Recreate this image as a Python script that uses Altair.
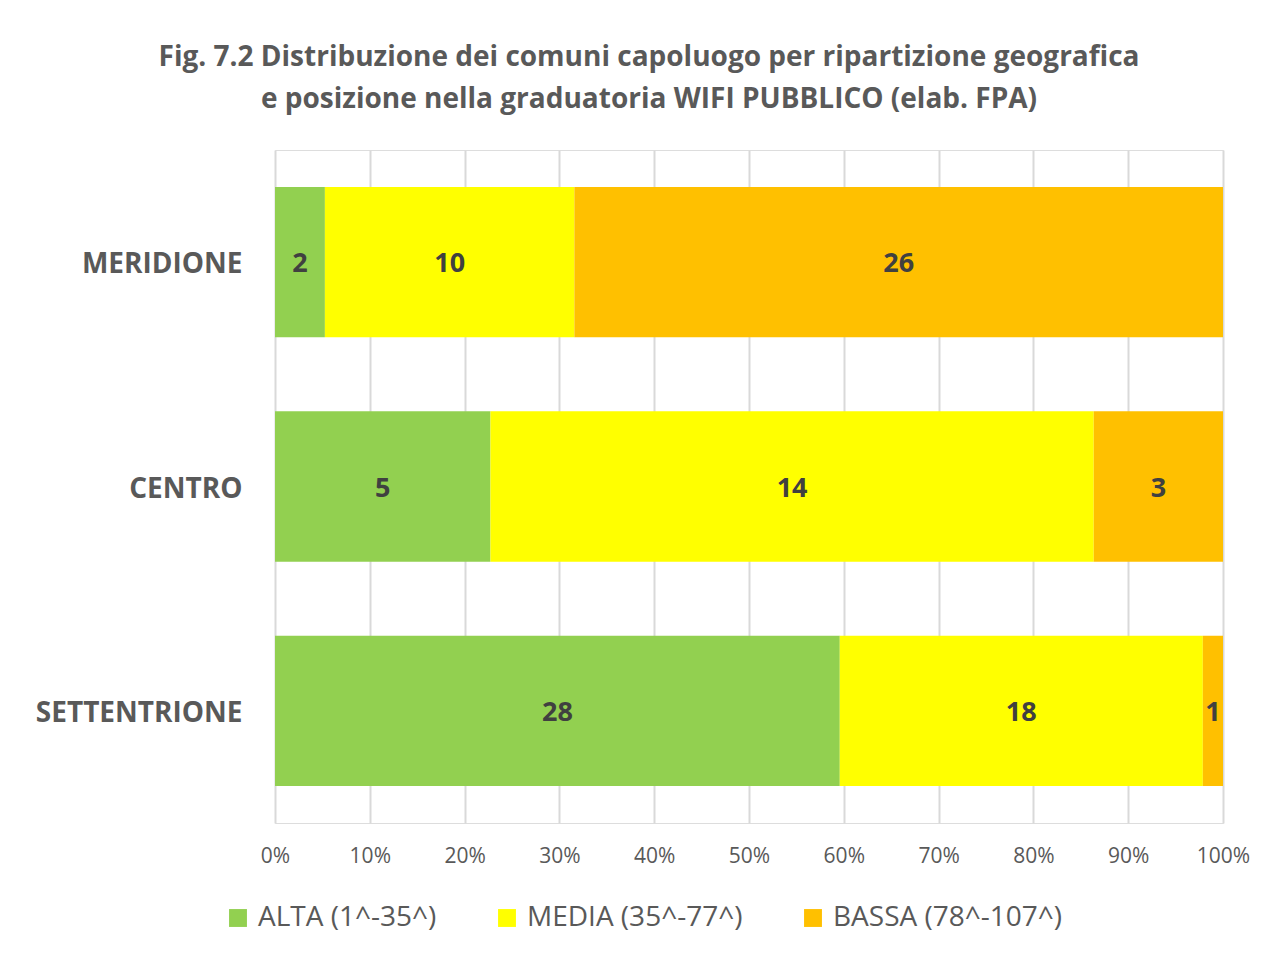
import altair as alt
import pandas as pd

regions = ["MERIDIONE", "CENTRO", "SETTENTRIONE"]
classes = ["ALTA (1^-35^)", "MEDIA (35^-77^)", "BASSA (78^-107^)"]
alta = [2, 5, 28]
media = [10, 14, 18]
bassa = [26, 3, 1]
colors = ["#92D050", "#FFFF00", "#FFC000"]
x_ticks = [0, 0.1, 0.2, 0.3, 0.4, 0.5, 0.6, 0.7, 0.8, 0.9, 1.0]

rows = []
for i, r in enumerate(regions):
    for j, (c, vals) in enumerate(zip(classes, [alta, media, bassa])):
        rows.append({"region": r, "classe": c, "ord": j, "n": vals[i]})
df = pd.DataFrame(rows)

FONT = "Open Sans"
GREY = "#595959"

base = alt.Chart(df)

bars = base.mark_bar().encode(
    y=alt.Y("region:N", sort=regions, title=None,
            scale=alt.Scale(paddingInner=0.33, paddingOuter=0.165),
            axis=alt.Axis(labelFont=FONT, labelFontSize=28, labelFontWeight="bold",
                          labelColor=GREY, labelPadding=33, ticks=False, domain=False,
                          labelLimit=400, labelOffset=3)),
    x=alt.X("sum(n):Q", stack="normalize", title=None,
            scale=alt.Scale(domain=[0, 1]),
            axis=alt.Axis(values=x_ticks, format=".0%", labelFont=FONT, labelFontSize=21,
                          labelColor=GREY, labelPadding=22, ticks=False, domain=False,
                          labelFlush=False,
                          grid=True, gridColor="#D9D9D9", gridWidth=2)),
    color=alt.Color("classe:N", sort=classes,
                    scale=alt.Scale(domain=classes, range=colors),
                    legend=alt.Legend(title=None, orient="none", direction="horizontal",
                                      legendX=-51, legendY=754,
                                      labelFont=FONT, labelFontSize=28, labelColor=GREY,
                                      symbolType="square", symbolSize=320,
                                      symbolStrokeWidth=0, columnPadding=56,
                                      labelOffset=6, labelLimit=400)),
    order=alt.Order("ord:Q"),
)

labels = base.transform_joinaggregate(
    total="sum(n)", groupby=["region"]
).transform_window(
    cum="sum(n)", groupby=["region"], sort=[alt.SortField("ord")]
).transform_calculate(
    mid="(datum.cum - datum.n / 2) / datum.total"
).mark_text(font=FONT, fontSize=27, fontWeight="bold", color="#404040",
            baseline="middle", align="center", dy=2).encode(
    y=alt.Y("region:N", sort=regions),
    x=alt.X("mid:Q"),
    text="n:Q",
)

chart = alt.layer(bars, labels).properties(
    width=948, height=673,
    title=alt.TitleParams(
        ["Fig. 7.2  Distribuzione dei comuni capoluogo per ripartizione geografica",
         "e posizione nella graduatoria WIFI PUBBLICO (elab. FPA)"],
        font=FONT, fontSize=28, fontWeight="bold", color=GREY,
        anchor="middle", lineHeight=42, offset=36, dx=-100),
    autosize=alt.AutoSizeParams(type="none"),
    padding={"left": 267, "top": 142, "right": 34, "bottom": 125},
).configure_view(stroke=None).configure(background="white")

chart.save("out.html", embed_options={"renderer": "svg", "actions": False})
